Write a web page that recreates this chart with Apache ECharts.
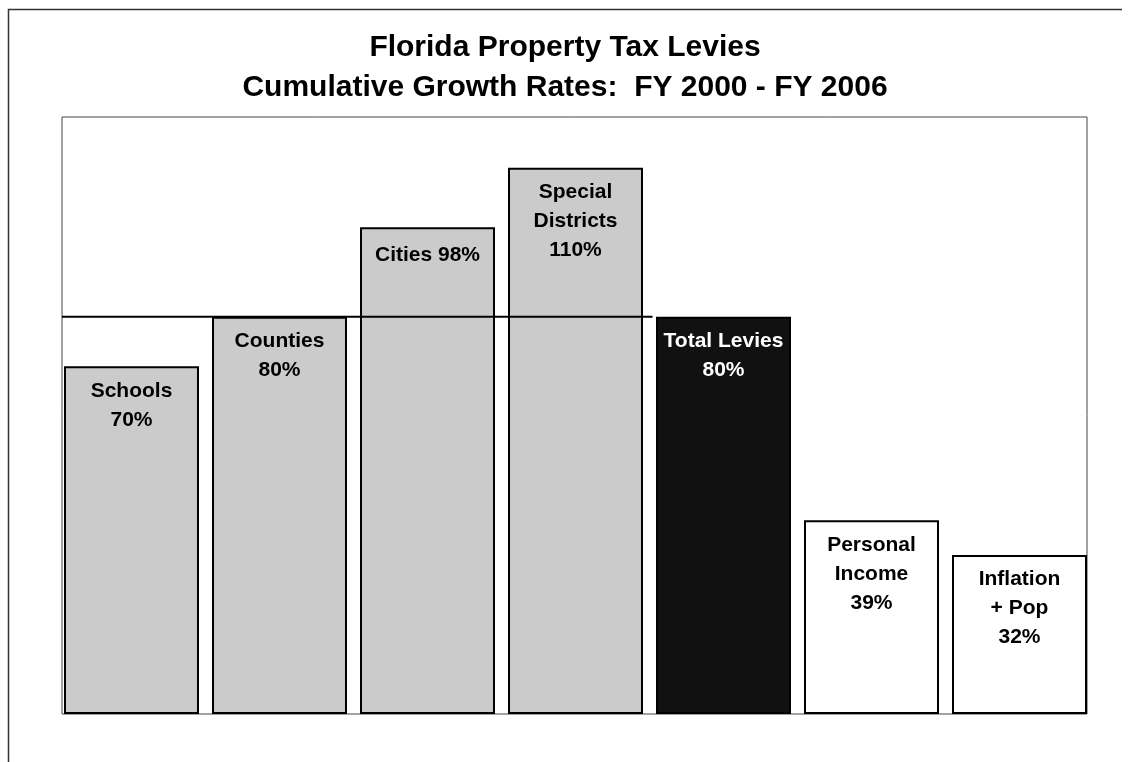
<!DOCTYPE html>
<html>
<head>
<meta charset="utf-8">
<script src="https://cdn.jsdelivr.net/npm/echarts@6/dist/echarts.min.js"></script>
<style>
  html, body { margin: 0; padding: 0; background: #fff; }
  #chart { width: 1130px; height: 762px; }
</style>
</head>
<body>
<div id="chart"></div>
<script>
// Categories (line breaks as shown inside each bar) and cumulative growth, %
const categories = ['Schools', 'Counties', 'Cities', 'Special\nDistricts', 'Total Levies', 'Personal\nIncome', 'Inflation\n+ Pop'];
const growth = [70, 80, 98, 110, 80, 39, 32];
// Separator between name and value in each bar label
const labelJoin = ['\n', '\n', ' ', '\n', '\n', '\n', '\n'];
// Bar fill kinds: levy components, total, benchmarks
const barKind = ['levy', 'levy', 'levy', 'levy', 'total', 'bench', 'bench'];
const totalIndex = 4;
const referenceEndIndex = 3;

const fills = { levy: '#cbcbcb', total: '#111111', bench: '#ffffff' };
const textColors = { levy: '#000', total: '#fff', bench: '#000' };

const FONT = '"Liberation Sans", Arial, Helvetica, sans-serif';

const chart = echarts.init(document.getElementById('chart'), null, { renderer: 'canvas' });

const gridLeft = 57.5, gridWidth = 1036, gridTop = 118, gridBottom = 48;

chart.setOption({
  backgroundColor: '#ffffff',
  animation: false,
  title: {
    text: 'Florida Property Tax Levies\nCumulative Growth Rates:  FY 2000 - FY 2006',
    left: 'center',
    top: 23,
    textStyle: { fontFamily: FONT, fontWeight: 'bold', fontSize: 30, lineHeight: 40, color: '#000' }
  },
  grid: { left: gridLeft, width: gridWidth, top: gridTop, bottom: gridBottom },
  xAxis: {
    type: 'category',
    data: categories,
    show: false
  },
  yAxis: { type: 'value', min: 0, max: 120, show: false, splitLine: { show: false } },
  series: [{
    type: 'bar',
    barWidth: 135,
    data: growth.map((v, i) => ({
      value: v,
      itemStyle: { color: fills[barKind[i]], borderColor: '#000', borderWidth: 2 },
      label: {
        color: textColors[barKind[i]],
        distance: i === 2 ? 13 : 10
      }
    })),
    label: {
      show: true,
      position: 'insideTop',
      fontFamily: FONT,
      fontWeight: 'bold',
      fontSize: 21,
      lineHeight: 29,
      align: 'center',
      formatter: p => categories[p.dataIndex] + labelJoin[p.dataIndex] + p.value + '%'
    },
    z: 2
  }]
});

// Frame, outer border and the total-levies reference line
function drawOverlay() {
  const y80 = chart.convertToPixel({ gridIndex: 0 }, [0, growth[totalIndex]])[1];
  const yBase = chart.convertToPixel({ gridIndex: 0 }, [0, 0])[1];
  const yTop = chart.convertToPixel({ gridIndex: 0 }, [0, 120])[1];
  const band = gridWidth / categories.length;
  const x0 = chart.convertToPixel({ gridIndex: 0 }, [0, 0])[0] - band / 2 + 4.5;
  const xEnd = chart.convertToPixel({ gridIndex: 0 }, [referenceEndIndex, 0])[0] + band / 2 + 3;
  const xRight = chart.convertToPixel({ gridIndex: 0 }, [categories.length - 1, 0])[0] + 67.5;
  chart.setOption({
    graphic: [
      {
        type: 'rect', z: 0, silent: true,
        shape: { x: x0, y: yTop - 1, width: xRight - x0, height: yBase - yTop + 1 },
        style: { fill: 'none', stroke: '#444', lineWidth: 1 }
      },
      {
        type: 'polyline', z: 10, silent: true,
        shape: { points: [[8.5, 762], [8.5, 9.5], [1122, 9.5]] },
        style: { fill: 'none', stroke: '#333', lineWidth: 1.5 }
      },
      {
        type: 'line', z: 10, silent: true,
        shape: { x1: x0, y1: y80, x2: xEnd, y2: y80 },
        style: { stroke: '#000', lineWidth: 2 }
      }
    ]
  });
}
drawOverlay();
</script>
</body>
</html>
